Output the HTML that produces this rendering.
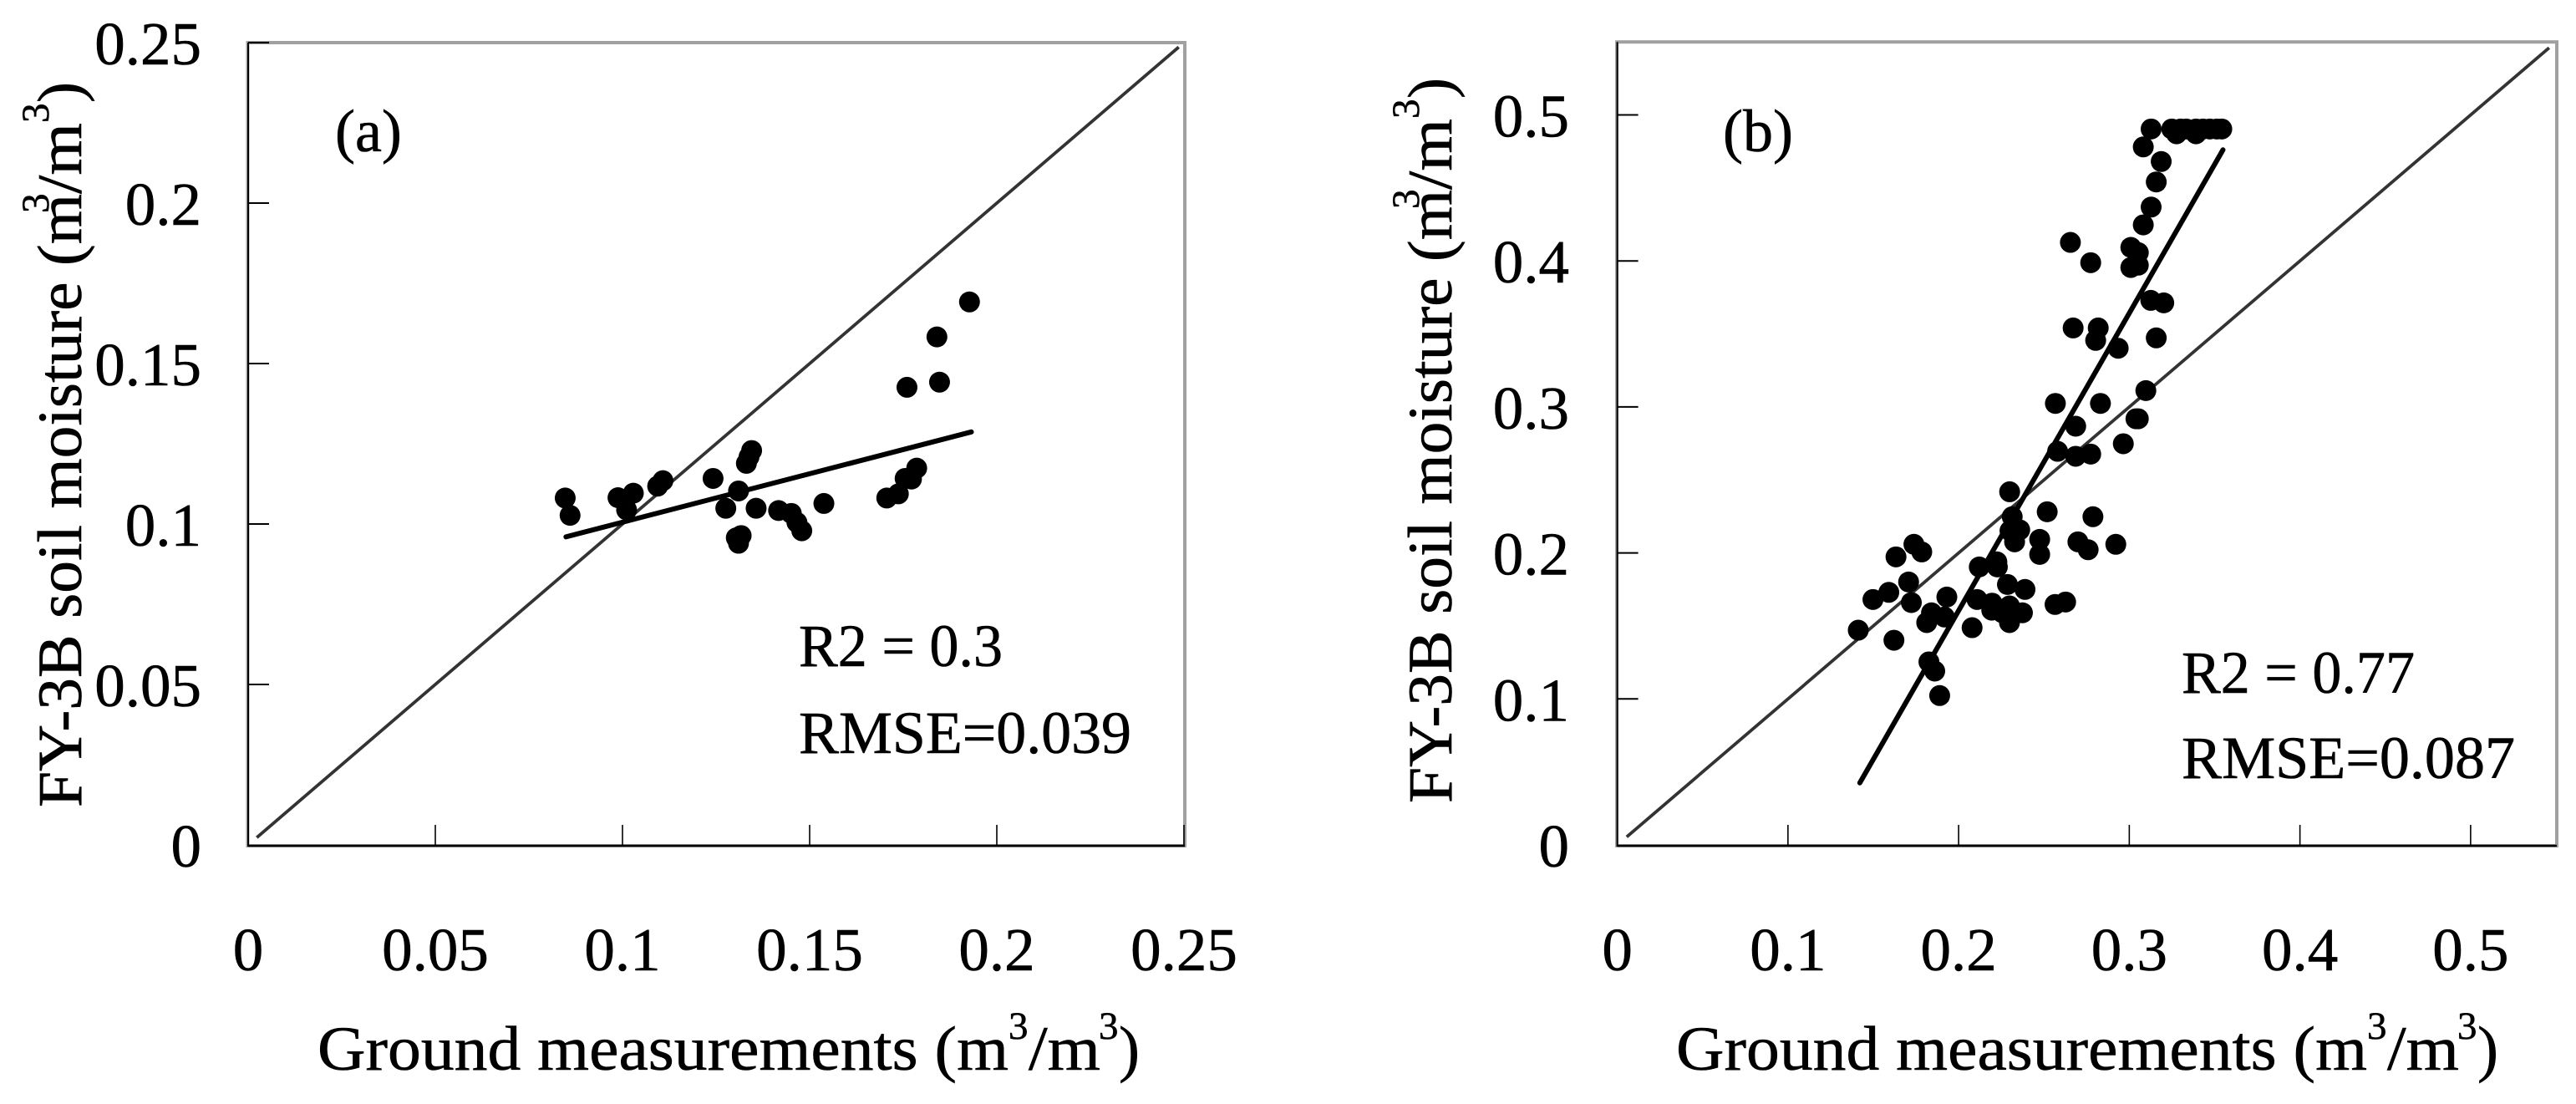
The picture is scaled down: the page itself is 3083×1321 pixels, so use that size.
<!DOCTYPE html>
<html lang="en">
<head>
<meta charset="utf-8">
<title>FY-3B soil moisture vs ground measurements</title>
<style>
html,body{margin:0;padding:0;background:#fff;}
svg{display:block;}
text{font-family:"Liberation Serif",serif;fill:#000;stroke:#000;stroke-width:0.6px;font-size:73px;}
.t{font-size:75px;}
.l{font-size:72px;}
.s{font-size:47px;}
</style>
</head>
<body>
<svg id="figure" xmlns="http://www.w3.org/2000/svg" width="3083" height="1321" viewBox="0 0 3083 1321">
  <rect width="3083" height="1321" fill="#fff"/>
  <g id="panel-a"></g>
  <g id="panel-b"></g>

  <g>
    <text class="t" x="380" y="1280" textLength="827" lengthAdjust="spacingAndGlyphs">Ground measurements (m</text>
    <text class="s" x="1207" y="1243">3</text>
    <text class="t" x="1231" y="1280" textLength="86" lengthAdjust="spacingAndGlyphs">/m</text>
    <text class="s" x="1315" y="1243">3</text>
    <text class="t" x="1339" y="1280">)</text>
  </g>
  <g transform="translate(97,966) rotate(-90)">
    <text class="t" x="0" y="0" textLength="734" lengthAdjust="spacingAndGlyphs">FY-3B soil moisture (m</text>
    <text class="s" x="711" y="-39">3</text>
    <text class="t" x="734" y="0" textLength="85" lengthAdjust="spacingAndGlyphs">/m</text>
    <text class="s" x="819" y="-39">3</text>
    <text class="t" x="843" y="0">)</text>
  </g>
  <text class="l" x="401" y="181">(a)</text>
  <text class="l" x="956" y="797" textLength="244" lengthAdjust="spacingAndGlyphs">R2 = 0.3</text>
  <text class="l" x="956" y="901" textLength="398" lengthAdjust="spacingAndGlyphs">RMSE=0.039</text>

  <g transform="translate(1626,0)">
    <text class="t" x="380" y="1280" textLength="827" lengthAdjust="spacingAndGlyphs">Ground measurements (m</text>
    <text class="s" x="1207" y="1243">3</text>
    <text class="t" x="1231" y="1280" textLength="86" lengthAdjust="spacingAndGlyphs">/m</text>
    <text class="s" x="1315" y="1243">3</text>
    <text class="t" x="1339" y="1280">)</text>
  </g>
  <g transform="translate(1737,961) rotate(-90)">
    <text class="t" x="0" y="0" textLength="734" lengthAdjust="spacingAndGlyphs">FY-3B soil moisture (m</text>
    <text class="s" x="711" y="-39">3</text>
    <text class="t" x="734" y="0" textLength="85" lengthAdjust="spacingAndGlyphs">/m</text>
    <text class="s" x="819" y="-39">3</text>
    <text class="t" x="843" y="0">)</text>
  </g>
  <text class="l" x="2062" y="181">(b)</text>
  <text class="l" x="2611" y="829" textLength="279" lengthAdjust="spacingAndGlyphs">R2 = 0.77</text>
  <text class="l" x="2611" y="931" textLength="399" lengthAdjust="spacingAndGlyphs">RMSE=0.087</text>
</svg>
<script>
// Panel (a) data
var aXTicks = [0, 0.05, 0.1, 0.15, 0.2, 0.25];
var aYTicks = [0, 0.05, 0.1, 0.15, 0.2, 0.25];
var aXTickLabels = ['0', '0.05', '0.1', '0.15', '0.2', '0.25'];
var aYTickLabels = ['0', '0.05', '0.1', '0.15', '0.2', '0.25'];
var aGround = [0.0847,0.0860,0.0988,0.1029,0.1011,0.1094,0.1108,0.1242,0.1276,0.1310,0.1331,0.1338,0.1345,0.1357,0.1310,0.1317,0.1304,0.1417,0.1451,0.1466,0.1479,0.1538,0.1706,0.1737,0.1755,0.1772,0.1786,0.1760,0.1847,0.1840,0.1927];
var aSatellite = [0.1081,0.1027,0.1082,0.1096,0.1044,0.1118,0.1135,0.1142,0.1049,0.1103,0.1189,0.1209,0.1229,0.1049,0.0940,0.0964,0.0957,0.1042,0.1033,0.1005,0.0979,0.1064,0.1081,0.1094,0.1142,0.1140,0.1174,0.1426,0.1442,0.1583,0.1692];
var aTrendX = [0.0849, 0.1932];
var aTrendY = [0.0960, 0.1287];
var aDiagonal = [0.0023, 0.2486];

// Panel (b) data
var bXTicks = [0, 0.1, 0.2, 0.3, 0.4, 0.5];
var bYTicks = [0, 0.1, 0.2, 0.3, 0.4, 0.5];
var bXTickLabels = ['0', '0.1', '0.2', '0.3', '0.4', '0.5'];
var bYTickLabels = ['0', '0.1', '0.2', '0.3', '0.4', '0.5'];
var bGround = [0.3128,0.3249,0.3277,0.3301,0.3334,0.3391,0.3391,0.3432,0.3472,0.3513,0.3542,0.3082,0.3187,0.3158,0.3128,0.3082,0.2655,0.2774,0.3009,0.3053,0.3009,0.3053,0.3126,0.3202,0.2671,0.2818,0.2803,0.2935,0.3158,0.3097,0.2567,0.2831,0.3039,0.3053,0.2686,0.2965,0.2580,0.2686,0.2774,0.2299,0.2519,0.2787,0.2314,0.2301,0.2358,0.2328,0.2475,0.2475,0.2699,0.2759,0.2921,0.1738,0.1784,0.1633,0.2121,0.2224,0.2227,0.1707,0.1591,0.1498,0.2286,0.2389,0.1723,0.1931,0.2108,0.2196,0.2194,0.1841,0.1813,0.1917,0.2257,0.2298,0.2298,0.2374,0.2314,0.2079,0.1621,0.2565,0.2627,0.1412,0.1826,0.1860,0.1889];
var bSatellite = [0.4904,0.4904,0.4871,0.4904,0.4904,0.4904,0.4871,0.4904,0.4904,0.4904,0.4904,0.4781,0.4681,0.4541,0.4369,0.4247,0.4127,0.3988,0.4093,0.4057,0.3955,0.3971,0.3730,0.3713,0.3541,0.3541,0.3456,0.3402,0.3473,0.3112,0.3024,0.3024,0.2919,0.2919,0.2868,0.2748,0.2696,0.2662,0.2677,0.2419,0.2282,0.2248,0.2248,0.2152,0.2158,0.2076,0.2093,0.1990,0.2076,0.2022,0.2059,0.2059,0.2007,0.1973,0.1904,0.1939,0.1904,0.1801,0.1730,0.1681,0.1784,0.1750,0.1660,0.1698,0.1681,0.1656,0.1608,0.1590,0.1523,0.1561,0.1590,0.1637,0.1523,0.1590,0.1570,0.1488,0.1402,0.1647,0.1664,0.1471,0.1254,0.1191,0.1023];
var bTrendX = [0.1421, 0.3549];
var bTrendY = [0.0425, 0.4761];
var bDiagonal = [0.0055, 0.5460];

var NS = 'http://www.w3.org/2000/svg';

function linearScale(d0, d1, r0, r1) {
  return function (v) { return r0 + (v - d0) * (r1 - r0) / (d1 - d0); };
}

function make(parent, tag, attrs) {
  var el = document.createElementNS(NS, tag);
  for (var k in attrs) { el.setAttribute(k, attrs[k]); }
  parent.appendChild(el);
  return el;
}

function drawPanel(cfg) {
  var root = document.getElementById(cfg.id);
  var x = cfg.x, y = cfg.y;
  var left = x(cfg.xMin), right = x(cfg.xMax), bottom = y(0), top = y(cfg.yMax);

  var frame = make(root, 'rect', {x: left - 0.5, y: top, width: right - left + 1.5, height: bottom - top + 1, fill: 'none', stroke: '#a0a0a0', 'stroke-width': 4});
  
  

  var yAxis = make(root, 'line', {x1: left, y1: top, x2: left, y2: bottom + 2, stroke: '#000', 'stroke-width': 2});
  
  

  var xAxis = make(root, 'line', {x1: left, y1: bottom + 1, x2: right + 1, y2: bottom + 1, stroke: '#000', 'stroke-width': 2.4});
  
  

  cfg.xTicks.forEach(function (t, i) {
    if (t > 0) {
      var tick = make(root, 'line', {x1: x(t), y1: bottom + 1, x2: x(t), y2: bottom - 24, stroke: '#000', 'stroke-width': 1.6});
      
      
    }
    var lab = make(root, 'text', {x: x(t), y: 1161, 'text-anchor': 'middle'});
    
    
    lab.textContent = cfg.xLabels[i];
  });

  cfg.yTicks.forEach(function (t, i) {
    if (t > 0) {
      var tick = make(root, 'line', {x1: left, y1: y(t), x2: left + 25, y2: y(t), stroke: '#000', 'stroke-width': 2});
      
      
    }
    var lab = make(root, 'text', {x: cfg.yLabelRight, y: y(t) + 26, 'text-anchor': 'end'});
    
    
    lab.textContent = cfg.yLabels[i];
  });

  var diag = make(root, 'line', {x1: x(cfg.diagonal[0]), y1: y(cfg.diagonal[0]), x2: x(cfg.diagonal[1]), y2: y(cfg.diagonal[1]), stroke: '#333', 'stroke-width': 3.8});
  
  

  var trend = make(root, 'line', {x1: x(cfg.trendX[0]), y1: y(cfg.trendY[0]), x2: x(cfg.trendX[1]), y2: y(cfg.trendY[1]), stroke: '#000', 'stroke-width': 6, 'stroke-linecap': 'round'});
  
  

  cfg.px.forEach(function (v, i) {
    var dot = make(root, 'circle', {cx: x(v), cy: y(cfg.py[i]), r: 12.5, fill: '#000'});
    
    
  });
}

drawPanel({
  id: 'panel-a',
  x: linearScale(0, 0.25, 297, 1417),
  y: linearScale(0, 0.25, 1011, 51),
  xMin: 0, xMax: 0.25, yMax: 0.25,
  xTicks: aXTicks, yTicks: aYTicks, xLabels: aXTickLabels, yLabels: aYTickLabels,
  yLabelRight: 241,
  px: aGround, py: aSatellite, trendX: aTrendX, trendY: aTrendY, diagonal: aDiagonal
});

drawPanel({
  id: 'panel-b',
  x: linearScale(0, 0.55, 1935.6, 3059),
  y: linearScale(0, 0.55, 1011, 50.2),
  xMin: 0, xMax: 0.55, yMax: 0.55,
  xTicks: bXTicks, yTicks: bYTicks, xLabels: bXTickLabels, yLabels: bYTickLabels,
  yLabelRight: 1878,
  px: bGround, py: bSatellite, trendX: bTrendX, trendY: bTrendY, diagonal: bDiagonal
});
</script>
</body>
</html>
